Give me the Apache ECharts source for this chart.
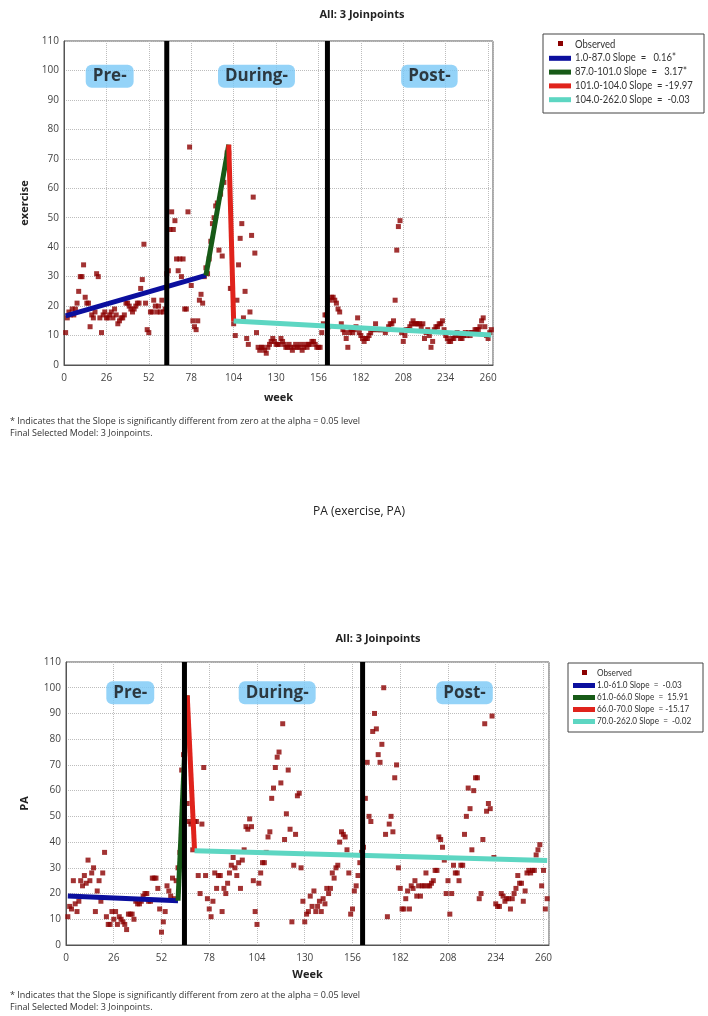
<!DOCTYPE html>
<html>
<head>
<meta charset="utf-8">
<title>Joinpoint - exercise / PA</title>
<script src="https://cdn.jsdelivr.net/npm/echarts@6/dist/echarts.min.js"></script>
<style>
html, body { margin: 0; padding: 0; background: #fff; }
#main { width: 708px; height: 1016px; }
</style>
</head>
<body>
<div id="main"></div>
<script>
// observed weekly values (week 1..262)
var exercise = [
	11, 16, 18, 17, 19, 17, 19, 21, 25, 30,
	30, 34, 23, 21, 21, 13, 17, 16, 18, 31,
	30, 16, 11, 17, 18, 16, 16, 17, 18, 16,
	19, 17, 14, 15, 16, 16, 17, 21, 21, 20,
	19, 18, 19, 20, 21, 21, 26, 29, 41, 21,
	12, 11, 18, 18, 22, 20, 18, 20, 18, 22,
	18, 19, 31, 32, 46, 52, 46, 49, 36, 32,
	36, 30, 36, 19, 19, 52, 74, 27, 15, 13,
	12, 15, 22, 24, 21, 30, 33, 31, 36, 42,
	48, 50, 54, 55, 39, 58, 37, 62, 67, 72,
	72, 26, 26, 14, 10, 22, 34, 43, 48, 16,
	25, 9, 7, 18, 44, 57, 38, 11, 6, 5,
	6, 6, 5, 4, 6, 7, 8, 9, 8, 7,
	7, 7, 9, 8, 7, 6, 6, 7, 6, 5,
	6, 7, 6, 6, 7, 5, 6, 7, 6, 7,
	7, 8, 8, 7, 6, 6, 6, 11, 14, 17,
	17, 13, 22, 23, 23, 22, 21, 19, 18, 14,
	12, 11, 9, 6, 11, 12, 11, 12, 13, 16,
	11, 10, 9, 8, 9, 9, 10, 11, 12, 12,
	14, 12, 12, 12, 12, 12, 11, 12, 13, 14,
	14, 15, 22, 39, 47, 49, 11, 8, 10, 12,
	12, 13, 14, 15, 14, 14, 14, 14, 13, 14,
	9, 11, 12, 10, 6, 8, 12, 13, 13, 14,
	14, 15, 12, 10, 9, 8, 8, 9, 9, 10,
	11, 10, 9, 9, 10, 11, 10, 11, 10, 11,
	11, 12, 12, 12, 13, 15, 16, 13, 10, 9,
	11, 12
];
var pa = [
	11, 15, 14, 25, 16, 13, 17, 25, 23, 27,
	24, 33, 25, 28, 30, 13, 21, 25, 17, 28,
	36, 11, 8, 8, 13, 10, 13, 8, 11, 10,
	9, 8, 6, 12, 12, 12, 10, 17, 16, 16,
	17, 19, 20, 20, 17, 17, 26, 26, 26, 22,
	14, 5, 9, 13, 23, 21, 19, 26, 18, 25,
	30, 36, 68, 74, 90, 55, 48, 47, 37, 48,
	48, 27, 20, 47, 69, 27, 18, 14, 11, 17,
	28, 22, 27, 27, 13, 22, 20, 24, 28, 31,
	34, 30, 27, 32, 22, 33, 37, 46, 45, 49,
	46, 25, 13, 8, 24, 28, 32, 32, 36, 42,
	44, 57, 61, 69, 73, 75, 63, 86, 41, 51,
	68, 45, 9, 31, 43, 58, 59, 30, 17, 9,
	12, 13, 19, 15, 21, 13, 15, 17, 13, 18,
	16, 22, 20, 22, 28, 26, 30, 31, 40, 44,
	43, 42, 37, 28, 12, 14, 21, 23, 27, 32,
	36, 38, 57, 71, 50, 48, 83, 90, 84, 74,
	71, 78, 100, 43, 11, 47, 50, 44, 65, 70,
	30, 22, 14, 14, 18, 21, 14, 23, 22, 25,
	19, 23, 19, 23, 23, 28, 23, 23, 24, 25,
	29, 29, 42, 41, 38, 33, 20, 25, 12, 20,
	31, 28, 28, 25, 31, 31, 43, 50, 61, 53,
	37, 60, 65, 65, 18, 20, 41, 86, 52, 55,
	53, 89, 34, 16, 15, 15, 20, 19, 17, 18,
	18, 14, 18, 20, 22, 27, 24, 24, 17, 21,
	28, 29, 28, 29, 29, 35, 37, 39, 23, 29,
	14, 18
];

// joinpoint segments: breakpoints and fitted values there
var exJoins = [1, 87, 101, 104, 262];
var exFit = [16.7, 30.4, 74.8, 14.9, 10.2];
var paJoins = [1, 61, 66, 70, 262];
var paFit = [19.0, 17.2, 97.0, 36.6, 32.8];

var exLegend = ['1.0-87.0 Slope  =   0.16*', '87.0-101.0 Slope  =   3.17*', '101.0-104.0 Slope  = -19.97', '104.0-262.0 Slope  =  -0.03'];
var paLegend = ['1.0-61.0 Slope  =  -0.03', '61.0-66.0 Slope  =  15.91', '66.0-70.0 Slope  = -15.17', '70.0-262.0 Slope  =  -0.02'];

// phase boundaries (black lines) and phase labels
var exPhase = [63, 161.5];
var paPhase = [64.5, 161.5];
var phaseNames = ['Pre-', 'During-', 'Post-'];
var exPhaseAt = [28, 118, 224];
var paPhaseAt = [35, 115, 217];
var phaseLabelY = 98;

var segColors = ['#0b0f9e', '#175a17', '#e0231c', '#5dd6c2'];
var markColor = '#8b0000';
var FONT = '"Open Sans", "Noto Sans", sans-serif';
var LEGFONT = 'Lato, "Open Sans", sans-serif';

function _seriesFor(idx, values, joins, fit, phase, phaseAt) {
	var list = [];
	var pts = [];
	for (var i = 0; i < values.length; i++) {
		pts.push([i + 1, values[i]]);
	}
	list.push({
		type: 'scatter', xAxisIndex: idx, yAxisIndex: idx,
		symbol: 'rect', symbolSize: 5, z: 2, silent: true,
		itemStyle: { color: markColor },
		data: pts
	});
	for (var s = 0; s < joins.length - 1; s++) {
		list.push({
			type: 'line', xAxisIndex: idx, yAxisIndex: idx,
			symbol: 'none', z: 3, silent: true,
			lineStyle: { color: segColors[s], width: 5, cap: 'butt' },
			data: [[joins[s], fit[s]], [joins[s + 1], fit[s + 1]]]
		});
	}
	for (var p = 0; p < phase.length; p++) {
		list.push({
			type: 'line', xAxisIndex: idx, yAxisIndex: idx,
			symbol: 'none', z: 4, silent: true,
			lineStyle: { color: '#000', width: 5, cap: 'butt' },
			data: [[phase[p], 0], [phase[p], 110]]
		});
	}
	var lab = [];
	for (var k = 0; k < phaseNames.length; k++) {
		lab.push({ value: [phaseAt[k], phaseLabelY], name: phaseNames[k] });
	}
	list.push({
		type: 'scatter', xAxisIndex: idx, yAxisIndex: idx,
		symbolSize: 0, z: 6, silent: true,
		label: {
			show: true, position: 'inside',
			formatter: '{b}',
			color: '#111', fontFamily: FONT, fontWeight: 'bold', fontSize: 17,
			backgroundColor: '#79c8f6', borderRadius: 6, padding: [3, 7, 3, 7]
		},
		data: lab
	});
	return list;
}

// legend box drawn by hand (square marker for Observed, bars for segments)
function _legendFor(left, top, w, h, gap, barX, textX, font, names) {
	var g = [];
	g.push({ type: 'rect', shape: { x: left, y: top, width: w, height: h },
		style: { fill: '#fff', stroke: '#444', lineWidth: 1 }, z: 10 });
	var y0 = top + 10;
	g.push({ type: 'rect', shape: { x: barX + 9, y: y0 - 3, width: 5, height: 5 },
		style: { fill: markColor }, z: 11 });
	g.push({ type: 'text', x: textX, y: y0, scaleX: 0.86, z: 11,
		style: { text: 'Observed', fill: '#333', font: font, textVerticalAlign: 'middle' } });
	for (var i = 0; i < names.length; i++) {
		var y = y0 + gap * (i + 1);
		g.push({ type: 'rect', shape: { x: barX, y: y - 2, width: 22, height: 5 },
			style: { fill: segColors[i] }, z: 11 });
		g.push({ type: 'text', x: textX, y: y, scaleX: 0.86, z: 11,
			style: { text: names[i], fill: '#333', font: font, textVerticalAlign: 'middle' } });
	}
	return g;
}

function _axes(idx, name, gapX, gapY, yName) {
	var common = {
		gridIndex: idx, type: 'value', min: 0,
		axisLine: { show: true, lineStyle: { color: '#555' } },
		axisTick: { show: false },
		axisLabel: { color: '#444', fontSize: 10, fontFamily: FONT },
		splitLine: { show: true, lineStyle: { color: '#bdbdbd', type: 'dotted' } }
	};
	var x = echarts.util.merge({
		max: 263, interval: 26, name: name, nameLocation: 'middle', nameGap: gapX,
		nameTextStyle: { fontWeight: 'bold', fontSize: 11, color: '#222', fontFamily: FONT },
		axisLabel: { showMaxLabel: false, margin: 8 }
	}, common);
	var y = echarts.util.merge({
		max: 110, interval: 10, name: yName, nameLocation: 'middle', nameGap: gapY,
		nameTextStyle: { fontWeight: 'bold', fontSize: 11, color: '#222', fontFamily: FONT },
		axisLabel: { margin: 5 }
	}, common);
	return [x, y];
}

var chart = echarts.init(document.getElementById('main'), null, { renderer: 'canvas' });

var a0 = _axes(0, 'week', 27, 34, 'exercise');
var a1 = _axes(1, 'Week', 24, 36, 'PA');

var series = _seriesFor(0, exercise, exJoins, exFit, exPhase, exPhaseAt)
	.concat(_seriesFor(1, pa, paJoins, paFit, paPhase, paPhaseAt));

var graphic = _legendFor(543, 34, 161, 79, 13.8, 549, 575, '11px ' + LEGFONT, exLegend)
	.concat(_legendFor(568, 663, 135, 69, 12, 573, 597, '9.5px ' + LEGFONT, paLegend));

var noteStyle = { color: '#333', fontSize: 9, fontWeight: 'normal', fontFamily: FONT, lineHeight: 12 };
var note = '* Indicates that the Slope is significantly different from zero at the alpha = 0.05 level\nFinal Selected Model: 3 Joinpoints.';

var option = {
	backgroundColor: '#fff',
	animation: false,
	title: [
		{ text: 'All: 3 Joinpoints', left: 357, top: 4, textAlign: 'center',
			textStyle: { fontSize: 11, fontWeight: 'bold', color: '#222', fontFamily: FONT } },
		{ text: 'PA (exercise, PA)', left: 354, top: 501, textAlign: 'center',
			textStyle: { fontSize: 12, fontWeight: 'normal', color: '#222', fontFamily: FONT } },
		{ text: 'All: 3 Joinpoints', left: 373, top: 628, textAlign: 'center',
			textStyle: { fontSize: 11, fontWeight: 'bold', color: '#222', fontFamily: FONT } },
		{ text: note, left: 10, top: 415, padding: 0, textStyle: noteStyle },
		{ text: note, left: 10, top: 989, padding: 0, textStyle: noteStyle }
	],
	grid: [
		{ left: 64, top: 41, width: 429, height: 324, show: true, borderColor: '#555', borderWidth: 1, backgroundColor: '#fff' },
		{ left: 66, top: 662, width: 483, height: 283, show: true, borderColor: '#555', borderWidth: 1, backgroundColor: '#fff' }
	],
	xAxis: [a0[0], a1[0]],
	yAxis: [a0[1], a1[1]],
	series: series,
	graphic: graphic
};
chart.setOption(option);
</script>
</body>
</html>
